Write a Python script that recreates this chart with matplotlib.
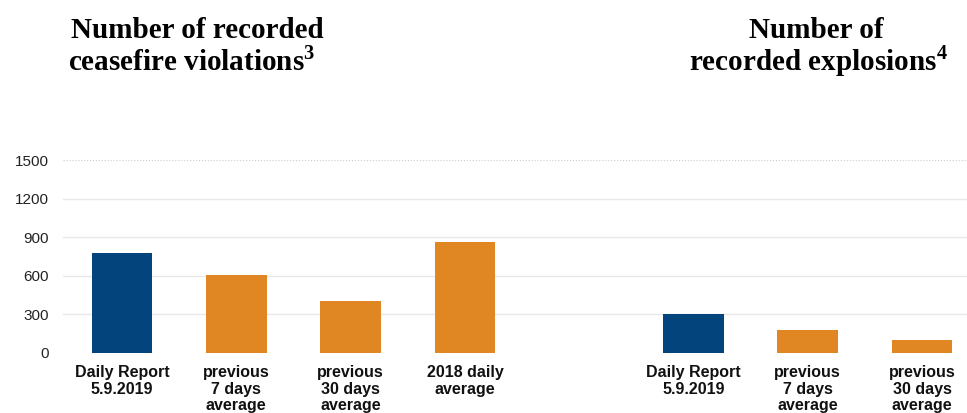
import numpy as np
import matplotlib.pyplot as plt

# data
cfv_labels = ['Daily Report\n5.9.2019', 'previous\n7 days\naverage', 'previous\n30 days\naverage', '2018 daily\naverage']
cfv_values = [777, 608, 408, 866]
cfv_colors = ['#02447b', '#e08622', '#e08622', '#e08622']

exp_labels = ['Daily Report\n5.9.2019', 'previous\n7 days\naverage', 'previous\n30 days\naverage']
exp_values = [304, 181, 103]
exp_colors = ['#02447b', '#e08622', '#e08622']

yticks = [0, 300, 600, 900, 1200, 1500]

W, H = 967, 413
fig = plt.figure(figsize=(W / 100, H / 100), dpi=100)
ax = fig.add_axes([63 / W, (H - 353) / H, 904 / W, 193 / H])

x_cfv = np.arange(len(cfv_values))
x_exp = np.arange(len(exp_values)) + len(cfv_values) + 1

ax.bar(x_cfv, cfv_values, width=0.53, color=cfv_colors, zorder=3)
ax.bar(x_exp, exp_values, width=0.53, color=exp_colors, zorder=3)

ax.set_xlim(-0.516, 7.393)
ax.set_ylim(0, 1500)
ax.set_yticks(yticks)
ax.set_yticklabels([str(v) for v in yticks], fontsize=11, color='#222222', family='Liberation Sans')
ax.tick_params(axis='y', length=0, pad=10)
ax.tick_params(axis='x', length=0, pad=9)
ax.set_xticks(list(x_cfv) + list(x_exp))
ax.set_xticklabels(cfv_labels + exp_labels, fontsize=11.5, fontweight='bold',
                   family='Liberation Sans', linespacing=1.1, color='#111111')

for y in yticks:
    if y in (0, 1500):
        ax.axhline(y, color='#cccccc', lw=0.8, ls=':', zorder=1)
    else:
        ax.axhline(y, color='#e8e8e8', lw=1.0, zorder=1)

for s in ax.spines.values():
    s.set_visible(False)

plt.rcParams['mathtext.fontset'] = 'custom'
plt.rcParams['mathtext.bf'] = 'Liberation Serif:bold'
plt.rcParams['mathtext.rm'] = 'Liberation Serif:bold'

tkw = dict(fontsize=21, fontweight='bold', family='Liberation Serif', ha='center', va='baseline')
fig.text(197 / W, 1 - 38 / H, 'Number of recorded', **tkw)
fig.text(192 / W, 1 - 70 / H, r'ceasefire violations$^{\mathbf{3}}$', **tkw)
fig.text(816 / W, 1 - 38 / H, 'Number of', **tkw)
fig.text(818 / W, 1 - 70 / H, r'recorded explosions$^{\mathbf{4}}$', **tkw)

fig.savefig('out.png', dpi=100)
